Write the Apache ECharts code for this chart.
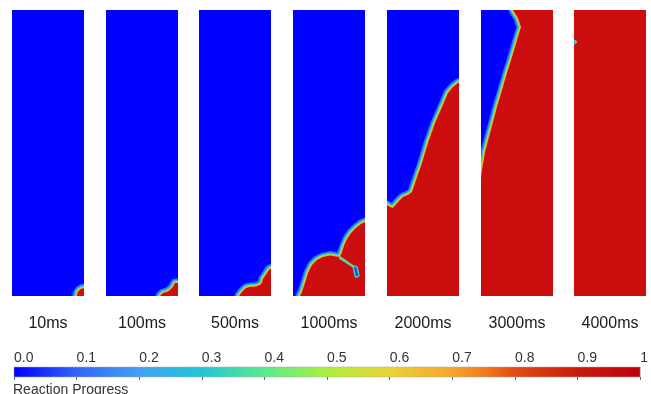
<!DOCTYPE html>
<html>
<head>
<meta charset="utf-8">
<script src="https://cdn.jsdelivr.net/npm/echarts@6/dist/echarts.min.js"></script>
<style>html,body{margin:0;padding:0;background:#fff;}#c{width:651px;height:394px;}</style>
</head>
<body>
<div id="c"></div>
<script>
// ---- data (panel domain: x 0..10 width, y 0..40 height) ----
const timeLabels = ['10ms', '100ms', '500ms', '1000ms', '2000ms', '3000ms', '4000ms'];

// burnt (red, progress = 1) regions, outlines
const burnt10ms = [[9.0,-0.5],[9.0,0],[9.15,0.55],[9.45,0.9],[9.75,1.05],[10,1.1],[10.5,1.1],[10.5,-0.5]];
const burnt100ms = [[7.5,-0.5],[7.5,0],[7.92,0.42],[8.47,0.56],[8.89,0.84],[9.3,1.26],[9.58,1.82],[10,1.82],[10.5,1.82],[10.5,-0.5]];
const burnt500ms = [[5.56,-0.5],[5.56,0],[5.97,0.56],[6.53,1.12],[7.08,1.26],[7.92,1.33],[8.47,1.54],[8.75,1.82],[8.89,2.38],[9.17,2.8],[9.44,3.22],[9.72,3.64],[10,3.85],[10.5,3.85],[10.5,-0.5]];
const burnt1000ms = [[0.97,-0.5],[0.97,0],[1.25,0.56],[1.67,1.82],[2.08,3.22],[2.64,4.34],[3.33,5.03],[4.17,5.45],[5.14,5.66],[5.97,5.52],[6.53,5.45],[6.81,6.15],[7.08,6.99],[7.5,7.97],[8.06,8.81],[8.75,9.51],[9.44,10.07],[10,10.35],[10.5,10.35],[10.5,-0.5]];
const burnt2000ms = [[-0.5,12.73],[0,12.73],[0.42,12.45],[0.83,12.31],[1.53,13.15],[2.22,13.85],[2.92,14.13],[3.47,14.55],[3.89,15.8],[4.86,18.6],[5.69,21.4],[6.67,24.2],[7.64,26.43],[8.47,28.39],[9.17,29.23],[9.86,29.79],[10,29.86],[10.5,29.86],[10.5,-0.5],[-0.5,-0.5]];
const burnt3000ms = [[4.44,40.8],[4.44,40],[5.14,38.88],[5.56,37.62],[5.0,35.8],[4.31,33.43],[3.61,31.19],[2.92,28.81],[2.22,26.43],[1.67,24.34],[1.11,22.24],[0.56,20.14],[0.14,17.62],[0,16.5],[-0.5,16.5],[-0.5,-0.5],[10.5,-0.5],[10.5,40.8]];
const burnt4000ms = [[-0.5,-0.5],[10.5,-0.5],[10.5,40.8],[-0.5,40.8]];
// unburnt pockets left inside burnt gas
const crack1000ms = [[6.53,5.42],[8.5,4.05],[6.53,5.32]];
const pocket1000ms = [[8.47,4.05],[8.8,4.0],[9.05,2.85],[8.75,2.75]];
const pocket4000ms = [[-0.5,35.95],[0.25,35.55],[-0.5,35.0]];

const burntRegions = [burnt10ms, burnt100ms, burnt500ms, burnt1000ms, burnt2000ms, burnt3000ms, burnt4000ms];

// colour scale (reaction progress)
const scaleTicks = [0, 0.1, 0.2, 0.3, 0.4, 0.5, 0.6, 0.7, 0.8, 0.9, 1];
const scaleStops = [0, 0.1, 0.2, 0.3, 0.4, 0.5, 0.6, 0.7, 0.75, 0.8, 0.9, 1];
const scaleColors = ['#0000ff', '#3264fa', '#42a2f4', '#22c6d4', '#5ce88e', '#aaf03e', '#ead232', '#f5a62c', '#f07c1e', '#e24c12', '#ca1a10', '#c00008'];
const scaleBar = [[0, 0], [1, 1]];

// ---- layout ----
const panelLefts = [12, 106, 199, 293, 387, 481, 574];
const panelW = 72, panelTop = 10, panelH = 286;
const BLUE = '#0000fe', RED = '#cc0d0d';
const FONT = '"Liberation Sans", Arial, sans-serif';
const edgeLayers = [[9, '#2e6cff'], [6, '#22c0e6'], [3.8, '#96e24e'], [2, '#f0b422']];

const grids = [], xAxes = [], yAxes = [], series = [];

function polySeries(idx, pts, fill, layers, z) {
  return {
    type: 'custom', xAxisIndex: idx, yAxisIndex: idx, clip: true, z: z,
    data: pts, encode: { x: 0, y: 1 }, silent: true,
    renderItem: function (params, api) {
      if (params.context.rendered) return;
      params.context.rendered = true;
      const points = pts.map(p => api.coord(p));
      const cs = params.coordSys;
      const children = layers.map(l => ({
        type: 'polygon', shape: { points: points },
        style: { fill: 'none', stroke: l[1], lineWidth: l[0], lineJoin: 'round' }
      }));
      if (fill) children.push({ type: 'polygon', shape: { points: points }, style: { fill: fill, stroke: 'none' } });
      return { type: 'group', children: children,
        clipPath: { type: 'rect', shape: { x: cs.x, y: cs.y, width: cs.width, height: cs.height } } };
    }
  };
}

timeLabels.forEach((lab, i) => {
  grids.push({ left: panelLefts[i], top: panelTop, width: panelW, height: panelH,
    show: true, backgroundColor: BLUE, borderWidth: 0 });
  xAxes.push({ gridIndex: i, type: 'value', min: 0, max: 10,
    axisLine: { show: false }, axisTick: { show: false }, axisLabel: { show: false }, splitLine: { show: false },
    name: lab, nameLocation: 'middle', nameGap: 20,
    nameTextStyle: { fontSize: 16, color: '#1a1a1a', fontFamily: FONT } });
  yAxes.push({ gridIndex: i, type: 'value', min: 0, max: 40, show: false });
  series.push(polySeries(i, burntRegions[i], RED, edgeLayers, 2));
});
series.push(polySeries(3, crack1000ms, null, [[2.2, '#5ad6a0']], 3));
series.push(polySeries(3, pocket1000ms, '#1a3cff', [[3, '#44d0c0']], 3));
series.push(polySeries(6, pocket4000ms, '#2a8cff', [[2.5, '#5cd8b8']], 3));

// colour bar
const cb = timeLabels.length;
grids.push({ left: 14, top: 367, width: 628, height: 10 });
xAxes.push({ gridIndex: cb, type: 'value', min: 0, max: 1, interval: 0.1, position: 'top', z: 10,
  axisLine: { show: false }, splitLine: { show: false },
  axisTick: { show: true, inside: true, length: 3, lineStyle: { color: '#666' } },
  axisLabel: { show: true, margin: 2, align: 'left', fontSize: 14, color: '#333', fontFamily: FONT,
    showMinLabel: true, showMaxLabel: true,
    formatter: v => (scaleTicks.indexOf(+v.toFixed(1)) >= 0 ? (v >= 1 ? '1' : v.toFixed(1)) : '') } });
yAxes.push({ gridIndex: cb, type: 'value', min: 0, max: 1, show: false });
series.push({
  type: 'custom', xAxisIndex: cb, yAxisIndex: cb, data: scaleBar, encode: { x: 0, y: 1 }, silent: true, z: 1,
  renderItem: function (params, api) {
    if (params.context.rendered) return;
    params.context.rendered = true;
    const a = api.coord(scaleBar[0]), b = api.coord(scaleBar[1]);
    return { type: 'rect',
      shape: { x: a[0], y: b[1], width: b[0] - a[0], height: a[1] - b[1] },
      style: { fill: new echarts.graphic.LinearGradient(0, 0, 1, 0,
        scaleStops.map((s, k) => ({ offset: s, color: scaleColors[k] }))), stroke: '#aaa', lineWidth: 0.5 } };
  }
});

const chart = echarts.init(document.getElementById('c'), null, { renderer: 'canvas' });
chart.setOption({
  backgroundColor: '#ffffff',
  animation: false,
  title: { text: 'Reaction Progress', left: 13, top: 383, padding: 0,
    textStyle: { fontSize: 14, fontWeight: 'normal', color: '#333', fontFamily: FONT } },
  grid: grids, xAxis: xAxes, yAxis: yAxes, series: series
});
</script>
</body>
</html>
